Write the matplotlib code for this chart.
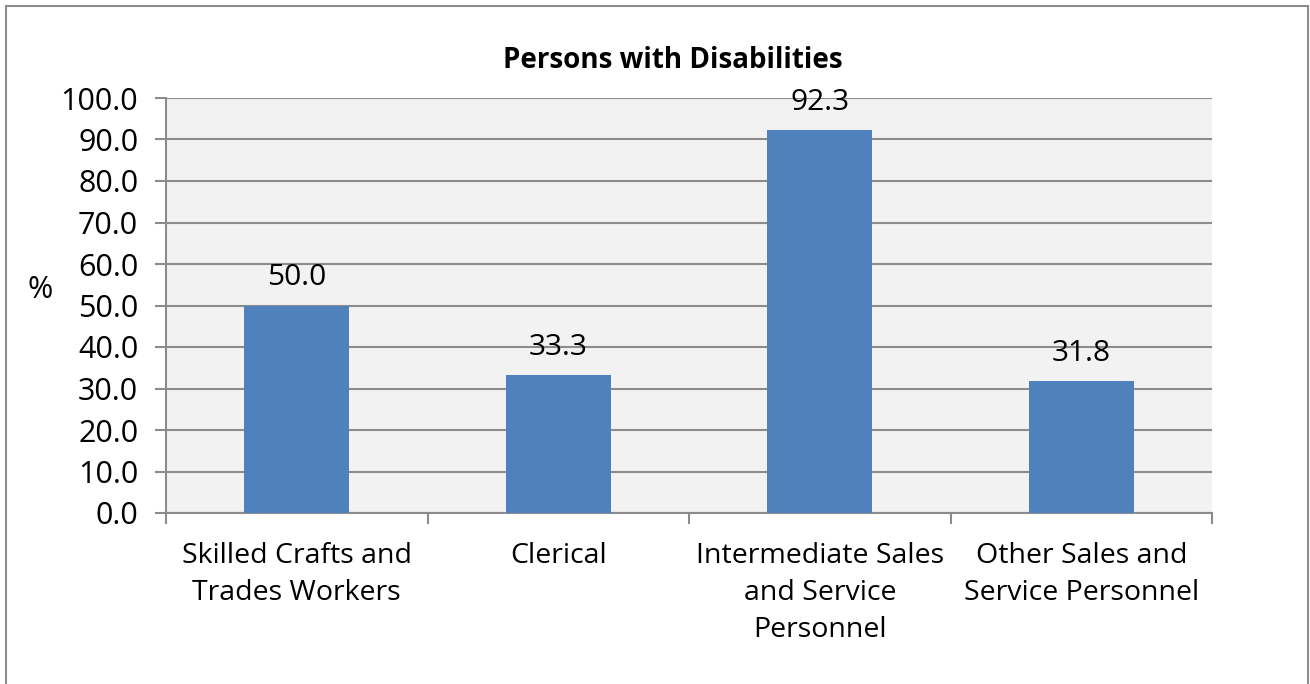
import matplotlib.pyplot as plt
from matplotlib.patches import Rectangle

categories = ["Skilled Crafts and\nTrades Workers", "Clerical",
              "Intermediate Sales\nand Service\nPersonnel", "Other Sales and\nService Personnel"]
values = [50.0, 33.3, 92.3, 31.8]
yticks = [0, 10, 20, 30, 40, 50, 60, 70, 80, 90, 100]

plt.rcParams['font.family'] = ['Open Sans', 'DejaVu Sans']

fig = plt.figure(figsize=(13.1, 6.84), dpi=100)
W, H = 1310, 684
ax = fig.add_axes([166 / W, 1 - 513 / H, (1212 - 166) / W, (513 - 98) / H])

# outer border of chart
fig.patches.append(Rectangle((6 / W, -0.05), (1308 - 6) / W, 1.05 - 6 / H,
                             transform=fig.transFigure, fill=False,
                             edgecolor='#8c8c8c', linewidth=1.5))

x = range(len(categories))
ax.bar(x, values, width=0.4, color='#4F81BD', zorder=3)
for xi, v in zip(x, values):
    ax.text(xi, v + 3.2, f"{v:.1f}", ha='center', va='bottom', fontsize=21.5)

ax.set_facecolor('#F2F2F2')
ax.set_xlim(-0.5, len(categories) - 0.5)
ax.set_ylim(0, 100)
ax.set_yticks(yticks)
ax.set_yticklabels([f"{t:.1f}" for t in yticks], fontsize=22)
ax.grid(axis='y', color='#8c8c8c', linewidth=1.5, zorder=0)

ax.set_xticks([i - 0.5 for i in range(len(categories) + 1)])
ax.set_xticklabels([])
ax.set_xticks(list(x), minor=True)
ax.set_xticklabels(categories, minor=True, fontsize=20.5, linespacing=1.42)
ax.tick_params(axis='x', which='minor', length=0, pad=21)
ax.tick_params(axis='x', which='major', length=8, width=1.5, color='#8c8c8c', direction='out')
ax.tick_params(axis='y', length=8, width=1.5, color='#8c8c8c', pad=12)

for s in ['top', 'right']:
    ax.spines[s].set_visible(False)
for s in ['left', 'bottom']:
    ax.spines[s].set_color('#8c8c8c')
    ax.spines[s].set_linewidth(1.5)

fig.text(673 / W, 1 - 60 / H, "Persons with Disabilities", fontsize=20,
         fontweight='bold', ha='center', va='center')
fig.text(40 / W, 1 - 290 / H, "%", fontsize=22, ha='center', va='center')

fig.savefig("out.png", dpi=100)
